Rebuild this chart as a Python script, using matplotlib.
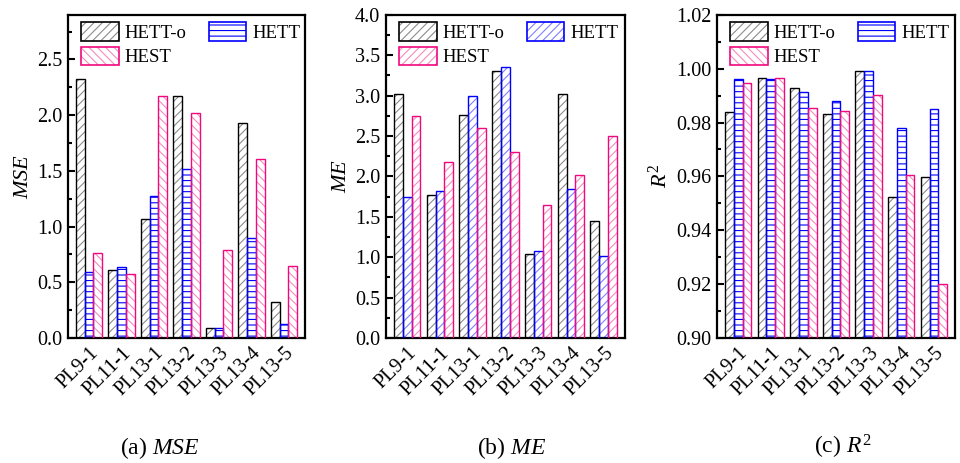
import matplotlib
matplotlib.use("Agg")
import matplotlib.pyplot as plt
from matplotlib.patches import Patch
from matplotlib.legend_handler import HandlerTuple
import numpy as np

plt.rcParams['font.family'] = ['Liberation Serif', 'DejaVu Serif']
plt.rcParams['mathtext.fontset'] = 'custom'
plt.rcParams['mathtext.rm'] = 'Liberation Serif'
plt.rcParams['mathtext.it'] = 'Liberation Serif:italic'
plt.rcParams['hatch.linewidth'] = 0.8

CATEGORIES = ["PL9-1", "PL11-1", "PL13-1", "PL13-2", "PL13-3", "PL13-4", "PL13-5"]
SERIES = ["HETT-o", "HETT", "HEST"]

MSE_HETT_O = [2.32, 0.61, 1.07, 2.17, 0.09, 1.93, 0.32]
MSE_HETT = [0.59, 0.64, 1.27, 1.52, 0.09, 0.90, 0.13]
MSE_HEST = [0.76, 0.57, 2.17, 2.02, 0.79, 1.61, 0.65]

ME_HETT_O = [3.02, 1.77, 2.76, 3.31, 1.04, 3.02, 1.45]
ME_HETT = [1.75, 1.82, 3.00, 3.35, 1.08, 1.84, 1.02]
ME_HEST = [2.75, 2.18, 2.60, 2.30, 1.64, 2.02, 2.50]

R2_HETT_O = [0.9840, 0.9965, 0.9930, 0.9832, 0.9991, 0.9525, 0.9598]
R2_HETT = [0.9961, 0.9962, 0.9915, 0.9880, 0.9990, 0.9780, 0.9850]
R2_HEST = [0.9946, 0.9965, 0.9855, 0.9843, 0.9903, 0.9605, 0.9202]

BLUE = '#0000FF'
BLUE_LIGHT = '#8080FF'
PINK = '#F0087E'
PINK_LIGHT = '#F58CBE'
GRAY = '#8C8C8C'

panels = [
    dict(data=[MSE_HETT_O, MSE_HETT, MSE_HEST], hatches=['////', '---', '\\\\\\\\'],
         colors=[('black', GRAY), (BLUE, BLUE), (PINK, PINK_LIGHT)],
         ylim=(0, 2.9), major=0.5, ylabel='$MSE$', caption='(a) $MSE$',
         fmt='{:.1f}', rect=[0.0708, 0.270, 0.247, 0.698], cap_x=0.167),
    dict(data=[ME_HETT_O, ME_HETT, ME_HEST], hatches=['////', '////', '////'],
         colors=[('black', GRAY), (BLUE, BLUE_LIGHT), (PINK, PINK_LIGHT)],
         ylim=(0, 4.0), major=0.5, ylabel='$ME$', caption='(b) $ME$',
         fmt='{:.1f}', rect=[0.402, 0.270, 0.249, 0.698], cap_x=0.533),
    dict(data=[R2_HETT_O, R2_HETT, R2_HEST], hatches=['////', '---', '\\\\\\\\'],
         colors=[('black', GRAY), (BLUE, BLUE), (PINK, PINK_LIGHT)],
         ylim=(0.90, 1.02), major=0.02, ylabel='$R^2$', caption='(c) $R^2$',
         fmt='{:.2f}', rect=[0.7469, 0.270, 0.248, 0.698], cap_x=0.878),
]

fig = plt.figure(figsize=(9.6, 4.63), dpi=100)
x = np.arange(len(CATEGORIES))
width = 0.27

for p in panels:
    ax = fig.add_axes(p['rect'])
    base = p['ylim'][0]
    handles = []
    for i, (vals, hatch) in enumerate(zip(p['data'], p['hatches'])):
        edge, hcol = p['colors'][i]
        pos = x + (i - 1) * width
        heights = np.array(vals) - base
        ax.bar(pos, heights, width, bottom=base, color='white', edgecolor=hcol,
               hatch=hatch, linewidth=0, zorder=2)
        ax.bar(pos, heights, width, bottom=base, color='none', edgecolor=edge,
               linewidth=1.0, zorder=3)
        handles.append((Patch(facecolor='white', edgecolor=hcol, hatch=hatch, linewidth=0),
                        Patch(facecolor='none', edgecolor=edge, linewidth=1.2)))
    ax.set_xlim(-0.65, 6.65)
    ax.set_ylim(*p['ylim'])
    ticks = np.arange(p['ylim'][0], p['ylim'][1] + 1e-9, p['major'])
    ax.set_yticks(ticks)
    ax.set_yticklabels([p['fmt'].format(t) for t in ticks])
    ax.set_yticks(np.arange(p['ylim'][0], p['ylim'][1] + 1e-9, p['major'] / 2), minor=True)
    ax.set_xticks(x)
    ax.set_xticklabels(CATEGORIES, rotation=45, ha='right', rotation_mode='anchor')
    ax.tick_params(axis='y', which='major', direction='in', length=5, width=1.5,
                   labelsize=14.5, pad=4)
    ax.tick_params(axis='y', which='minor', direction='in', length=3, width=1.5)
    ax.tick_params(axis='x', which='major', direction='in', length=0, labelsize=14.5, pad=4)
    for s in ax.spines.values():
        s.set_linewidth(1.6)
    ax.set_ylabel(p['ylabel'], fontsize=16, labelpad=3)
    # column-major order: HETT-o, HEST in first column, HETT in second
    order = [0, 2, 1]
    ax.legend([handles[k] for k in order], [SERIES[k] for k in order],
              handler_map={tuple: HandlerTuple(ndivide=1)},
              loc='upper left', ncol=2, frameon=False, fontsize=13.5,
              handlelength=2.0, handleheight=1.15, handletextpad=0.3,
              columnspacing=1.2, labelspacing=0.25, borderaxespad=0,
              bbox_to_anchor=(0.025, 1.0))
    fig.text(p['cap_x'], 0.005, p['caption'], ha='center', va='bottom', fontsize=17)

fig.savefig('out.png', dpi=100)
